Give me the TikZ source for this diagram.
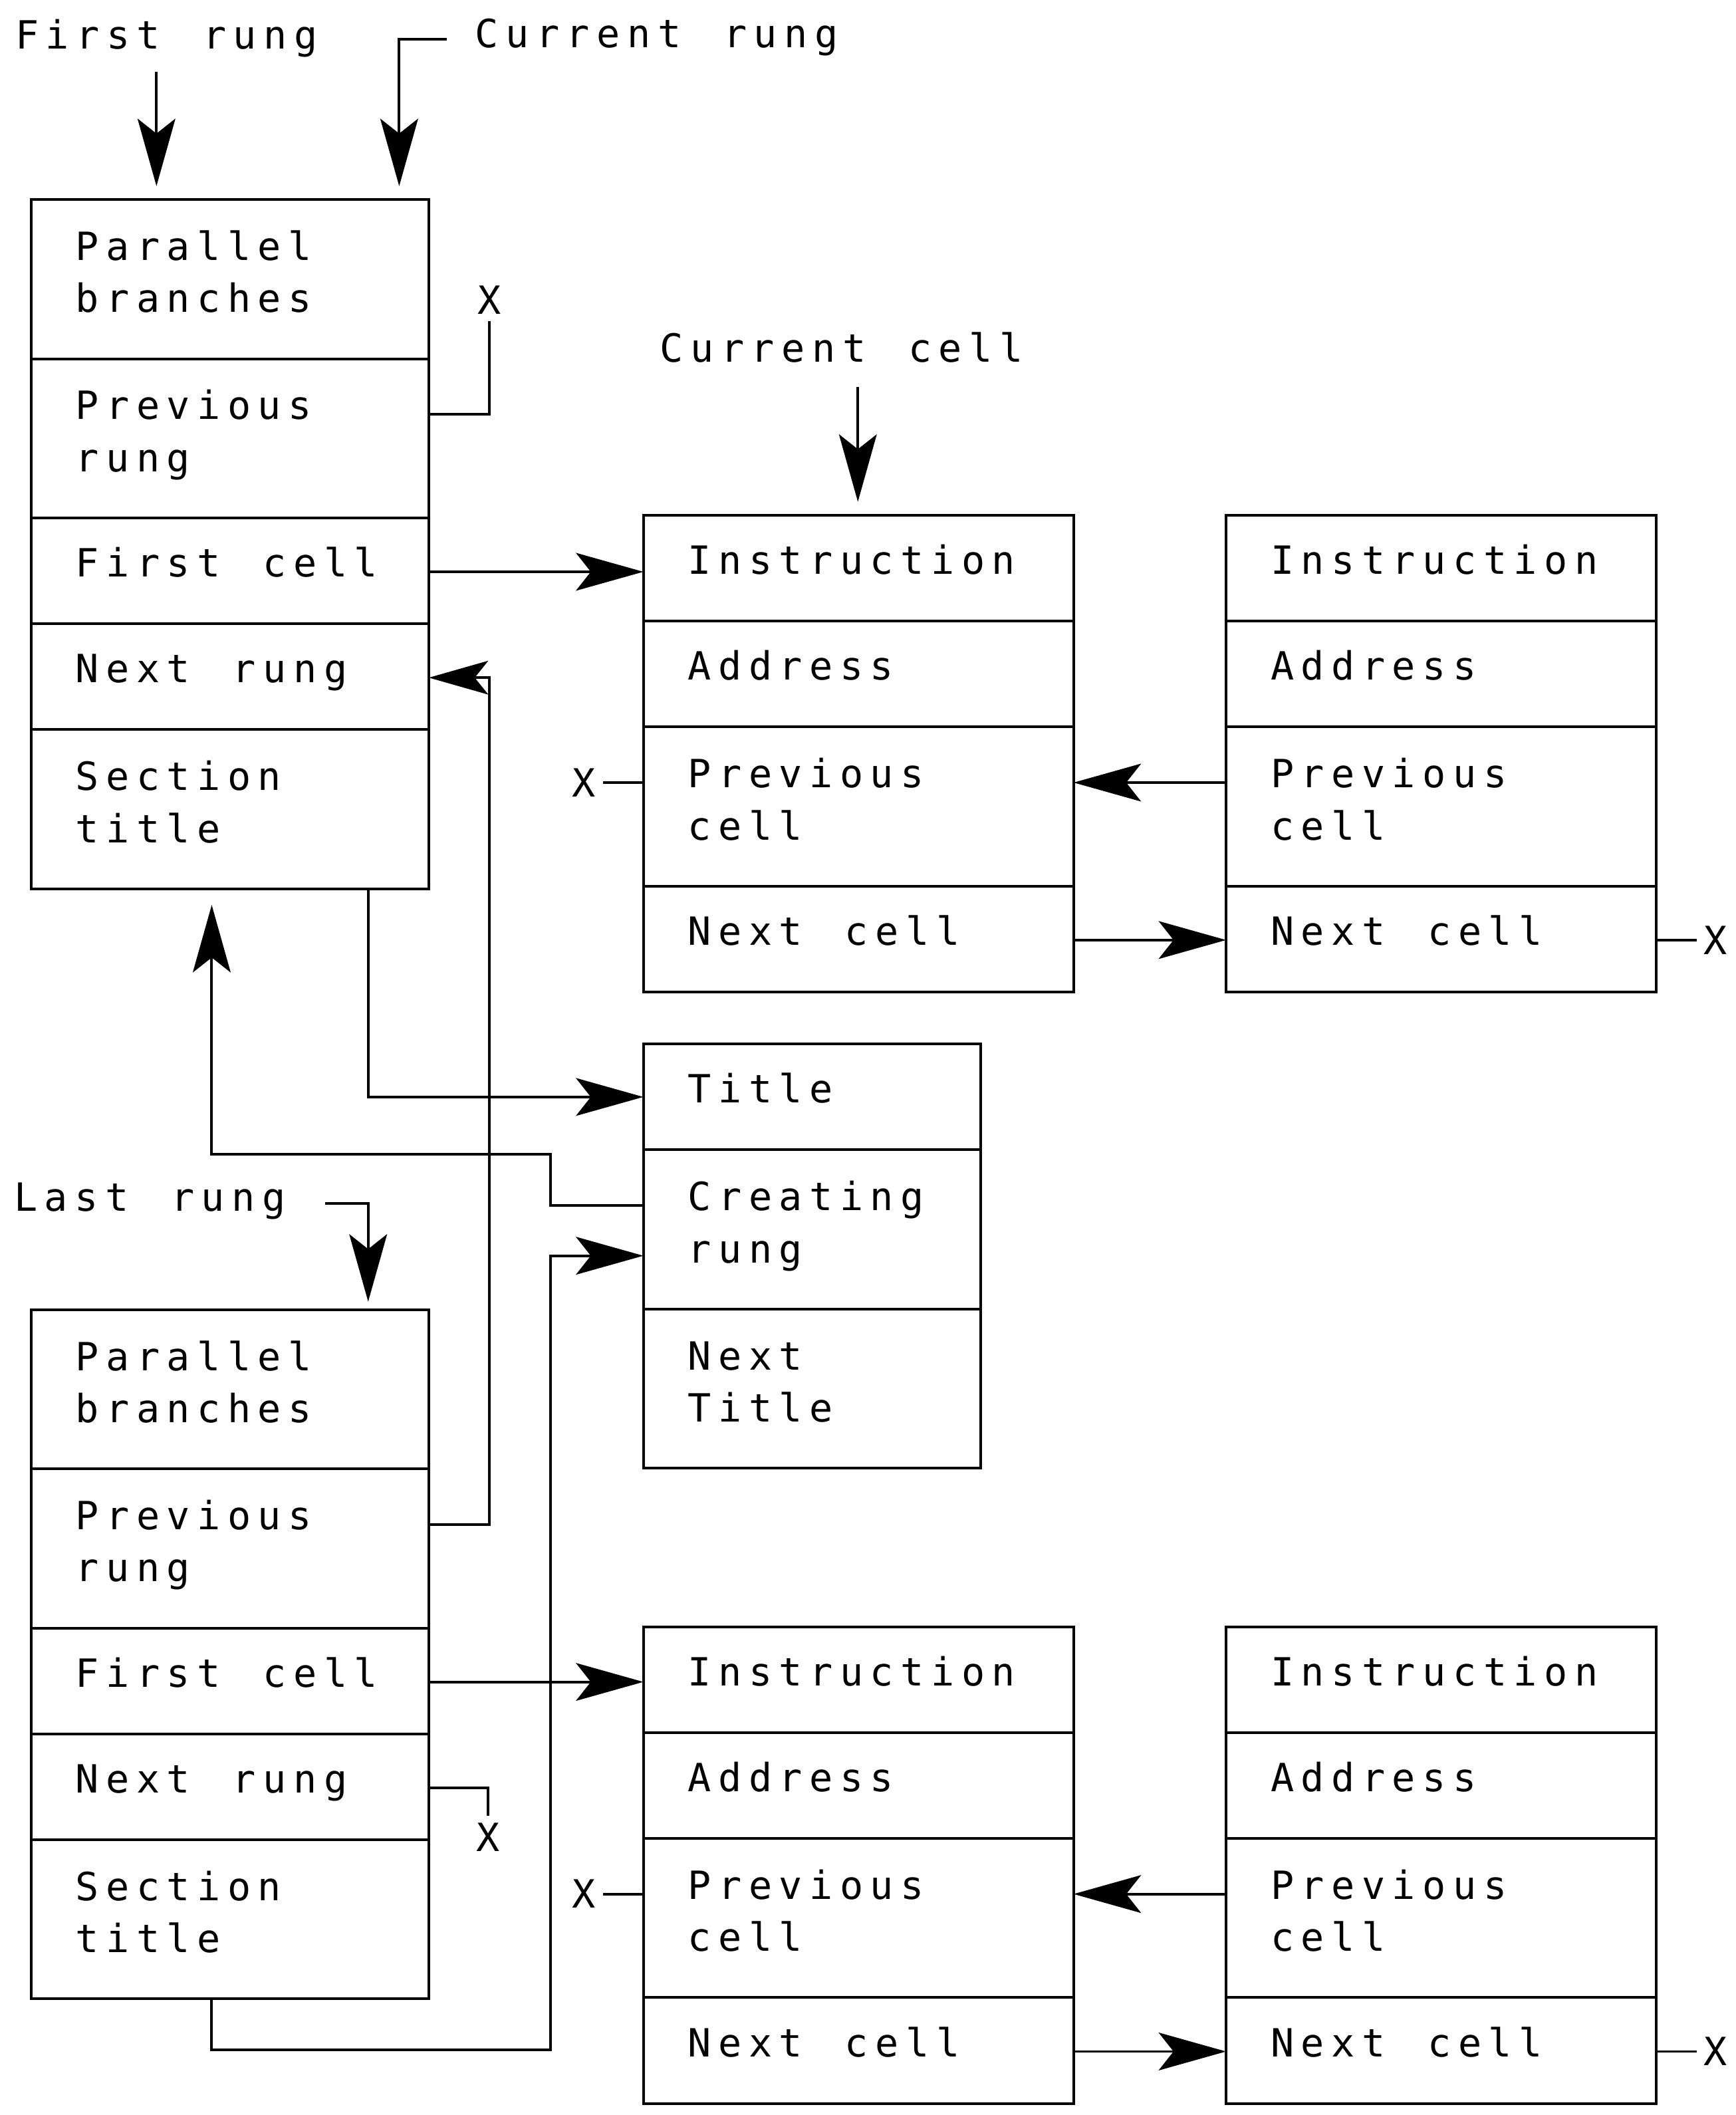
\documentclass[tikz,border=0pt]{standalone}
\usepackage{fontspec}
\newfontfamily\plotFont[LetterSpace=18, WordSpace=1.4]{DejaVu Sans Mono}
\newfontfamily\plotFontX{DejaVu Sans Mono}
\usetikzlibrary{arrows.meta, positioning, calc}

\newcommand{\RungBox}[3]{
    \node[rowTwo, rungRow, anchor=north west] (#1Par) at (#2,#3) {Parallel\\branches};
    \node[rowTwo, rungRow, below=0pt of #1Par] (#1Prev) {Previous\\rung};
    \node[rowOne, rungRow, below=0pt of #1Prev] (#1Cell) {\mbox{First cell}};
    \node[rowOne, rungRow, below=0pt of #1Cell] (#1Next) {\mbox{Next rung}};
    \node[rowTwo, rungRow, below=0pt of #1Next] (#1Sect) {Section\\title};
}
\newcommand{\CellBox}[3]{
    \node[rowOne, cellRow, anchor=north west] (#1Ins) at (#2,#3) {Instruction};
    \node[rowOne, cellRow, below=0pt of #1Ins] (#1Addr) {Address};
    \node[rowTwo, cellRow, below=0pt of #1Addr] (#1Prev) {Previous\\cell};
    \node[rowOne, cellRow, below=0pt of #1Prev] (#1Next) {\mbox{Next cell}};
}

\tikzset{
    % Record rows
    rowBase/.style={
        draw, rectangle, line width=1.1pt, outer sep=0pt,
        inner ysep=0pt, inner xsep=0.66cm, align=left, text height=0.42cm,
        font=\plotFont\fontsize{16.4}{22}\selectfont,
        execute at begin node={\spaceskip=0pt\relax}
    },
    rowOne/.style={rowBase, minimum height=1.57cm, text depth=0.24cm},
    rowTwo/.style={rowBase, minimum height=2.36cm, text depth=0.98cm},
    rungRow/.style={text width=4.58cm},
    cellRow/.style={text width=5.06cm},
    titleRow/.style={text width=3.68cm},
    % Pointers
    link/.style={line width=1.1pt},
    bigArrow/.style={link, -{Stealth[length=1cm, width=0.56cm, inset=0.22cm]}},
    labelText/.style={font=\plotFont\fontsize{16.4}{22}\selectfont, inner sep=0pt},
    xMark/.style={font=\plotFontX\fontsize{16.4}{22}\selectfont, inner sep=0.1cm}
}

\begin{document}
\begin{tikzpicture}[x=0.02cm, y=-0.02cm]
    \useasboundingbox (0,0) rectangle (1287,1568);

    % records
    \RungBox{first}{23}{148}
    \RungBox{last}{23}{971}
    \CellBox{cellA}{477}{382}
    \CellBox{cellB}{909}{382}
    \CellBox{cellC}{477}{1206}
    \CellBox{cellD}{909}{1206}
    \node[rowOne, titleRow, anchor=north west] (titleName) at (477,774) {Title};
    \node[rowTwo, titleRow, below=0pt of titleName] (titleCreate) {Creating\\rung};
    \node[rowTwo, titleRow, below=0pt of titleCreate] (titleNext) {Next\\Title};

    % outside labels
    \node[labelText, anchor=base west] (firstLbl) at (11,36) {First rung};
    \node[labelText, anchor=base west] (curRungLbl) at (352,35) {Current rung};
    \node[labelText, anchor=base west] (curCellLbl) at (489,268.6) {Current cell};
    \node[labelText, anchor=base west] (lastLbl) at (10,898) {Last rung};

    \coordinate (firstTop) at (116,53);
    \coordinate (curRungStart) at (331,29);
    \coordinate (curCellTop) at (636,287);
    \coordinate (lastStart) at (241,892);
    \draw[bigArrow, shorten >=0.2cm] (firstTop) -- (firstTop |- firstPar.north);
    \draw[bigArrow, shorten >=0.2cm] (curRungStart) -| ([xshift=-0.44cm]firstPar.north east);
    \draw[bigArrow, shorten >=0.2cm] (curCellTop) -- (curCellTop |- cellAIns.north);
    \draw[bigArrow, shorten >=0.12cm] (lastStart) -| ([xshift=-0.9cm]lastPar.north east);

    % first rung pointers
    \node[xMark, anchor=south] (xFirstPrev) at ($(firstPrev.mid east)+(45,-69)$) {X};
    \draw[link] (firstPrev.mid east) -| (xFirstPrev.south);
    \draw[bigArrow] (firstCell.mid east) -- (firstCell.mid east -| cellAIns.west);
    \draw[bigArrow] ([xshift=-0.9cm]firstSect.south east) |- (titleName.west);
    \draw[bigArrow] (titleCreate.mid west) -- ++(-69,0) -- ++(0,-38) -| ([xshift=2.68cm, yshift=-0.24cm]firstSect.south west);

    % last rung pointers
    \draw[link, -{Stealth[length=0.88cm, width=0.5cm, inset=0.2cm]}] (lastPrev.mid east) -- ++(45,0) |- (firstNext.mid east);
    \node[xMark, anchor=north] (xLastNext) at ($(lastNext.mid east)+(44,21)$) {X};
    \draw[link] (lastNext.mid east) -| (xLastNext.north);
    \draw[bigArrow] (lastCell.mid east) -- (lastCell.mid east -| cellCIns.west);
    \draw[bigArrow] ([xshift=2.68cm]lastSect.south west) -- ++(0,38) -| ([xshift=-1.38cm, yshift=-0.39cm]titleCreate.west) -- ([yshift=-0.39cm]titleCreate.west);

    % cell chains
    \foreach \c/\d in {cellA/cellB, cellC/cellD} {
        \draw[bigArrow] (\d Prev.mid west) -- (\d Prev.mid west -| \c Prev.east);
        \draw[bigArrow] (\c Next.mid east) -- (\c Next.mid east -| \d Next.west);
        \node[xMark, anchor=east] (x\c) at ($(\c Prev.mid west)+(-30,0)$) {X};
        \draw[link] (\c Prev.mid west) -- (x\c);
        \node[xMark, anchor=west] (x\d) at ($(\d Next.mid east)+(30,0)$) {X};
        \draw[link] (\d Next.mid east) -- (x\d);
    }
\end{tikzpicture}
\end{document}
